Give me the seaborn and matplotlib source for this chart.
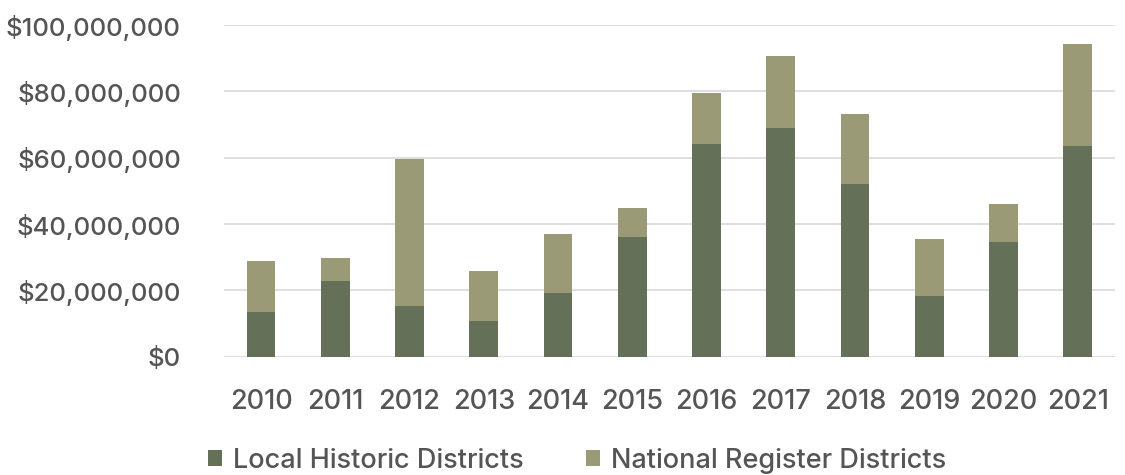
import numpy as np
import pandas as pd
import matplotlib
matplotlib.use("Agg")
import matplotlib.pyplot as plt
from matplotlib.patches import Patch
from matplotlib.ticker import FuncFormatter
import seaborn as sns

# Investment by district type, in millions of dollars
years = ["2010", "2011", "2012", "2013", "2014", "2015",
         "2016", "2017", "2018", "2019", "2020", "2021"]
local_historic = [13.4, 22.9, 15.3, 10.9, 19.1, 36.2, 64.1, 69.1, 52.1, 18.3, 34.5, 63.6]
national_register = [15.4, 6.8, 44.3, 14.9, 17.9, 8.6, 15.4, 21.5, 21.2, 17.1, 11.6, 30.7]
series_names = ["Local Historic Districts", "National Register Districts"]

LOCAL_COLOR = "#657059"
NATIONAL_COLOR = "#9b9a77"
TEXT_COLOR = "#555555"
FS = 19.5

sns.set_theme(style="white")
plt.rcParams["font.family"] = ["Inter", "DejaVu Sans"]
plt.rcParams["font.weight"] = 500

df = pd.DataFrame({
    "year": years,
    "local": np.array(local_historic) * 1e6,
    "national": np.array(national_register) * 1e6,
})
df["total"] = df["local"] + df["national"]

fig = plt.figure(figsize=(11.25, 4.75), dpi=100)
ax = fig.add_axes([0.199, 0.249, 0.792, 0.698])

# Stack: full total in the lighter tone, local share drawn over it
sns.barplot(data=df, x="year", y="total", color=NATIONAL_COLOR, width=0.39,
            saturation=1, linewidth=0, ax=ax, zorder=2)
sns.barplot(data=df, x="year", y="local", color=LOCAL_COLOR, width=0.39,
            saturation=1, linewidth=0, ax=ax, zorder=3)

ax.set_ylim(0, 100e6)
ax.set_xlim(-0.5, len(years) - 0.5)
ax.set_yticks(np.arange(0, 100e6 + 1, 20e6))
ax.yaxis.set_major_formatter(FuncFormatter(lambda v, p: f"${v:,.0f}"))
ax.grid(axis="y", color="#d9d9d9", linewidth=1.2, zorder=0)
ax.set_axisbelow(True)
for s in ax.spines.values():
    s.set_visible(False)
ax.set_xlabel("")
ax.set_ylabel("")
ax.tick_params(axis="y", length=0, pad=31, labelsize=18.5, labelcolor=TEXT_COLOR)
ax.tick_params(axis="x", length=0, pad=23, labelsize=FS, labelcolor=TEXT_COLOR)

handles = [Patch(facecolor=LOCAL_COLOR, edgecolor="none"),
           Patch(facecolor=NATIONAL_COLOR, edgecolor="none")]
fig.legend(handles, series_names, loc="center left",
           bbox_to_anchor=(0.163, 0.03), ncol=2, frameon=False,
           fontsize=FS, labelcolor=TEXT_COLOR, handlelength=0.52,
           handleheight=0.52, handletextpad=0.4, columnspacing=2.3)

fig.savefig("out.png", dpi=100)
